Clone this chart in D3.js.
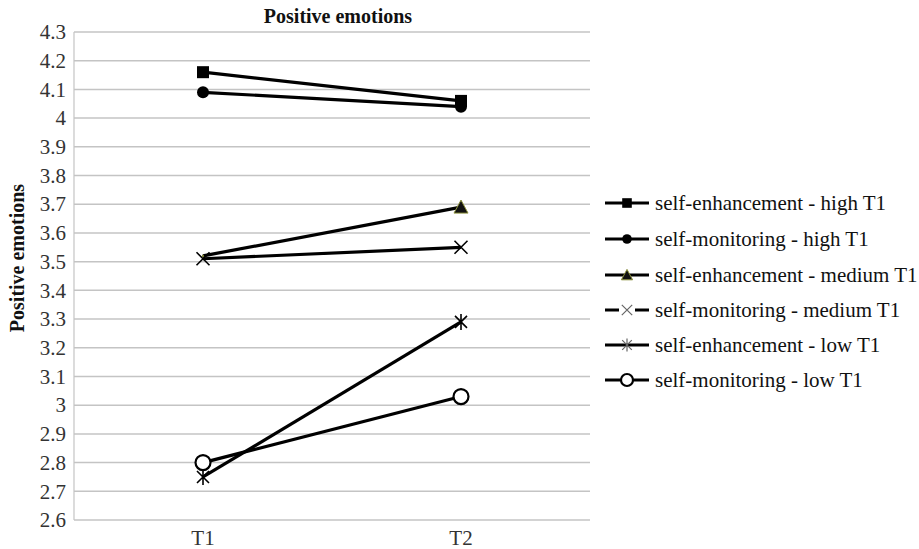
<!DOCTYPE html>
<html><head><meta charset="utf-8">
<script src="https://cdn.jsdelivr.net/npm/d3@7"></script>
<style>body{margin:0;background:#fff}svg{display:block}text{font-family:"Liberation Serif","Times New Roman",serif}</style>
</head><body>
<script>
const categories = ["T1", "T2"];
const seriesNames = ["self-enhancement - high T1", "self-monitoring - high T1", "self-enhancement - medium T1", "self-monitoring - medium T1", "self-enhancement - low T1", "self-monitoring - low T1"];
const seHigh = [4.16, 4.06];
const smHigh = [4.09, 4.04];
const seMedium = [3.52, 3.69];
const smMedium = [3.51, 3.55];
const seLow = [2.75, 3.29];
const smLow = [2.80, 3.03];
const yTicks = [2.6,2.7,2.8,2.9,3,3.1,3.2,3.3,3.4,3.5,3.6,3.7,3.8,3.9,4,4.1,4.2,4.3];
const markers = ["square","circle","triangle","x","star","ocircle"];

const seriesValues = [seHigh, smHigh, seMedium, smMedium, seLow, smLow];
const W = 919, H = 549;
const svg = d3.select("body").append("svg").attr("width", W).attr("height", H);
const pLeft = 74, pRight = 590, pTop = 32, pBottom = 520;
const x = d3.scaleBand().domain(categories).range([pLeft, pRight]);
const y = d3.scaleLinear().domain([2.6, 4.3]).range([pBottom, pTop]);

// gridlines
svg.append("g").selectAll("line").data(yTicks).join("line")
  .attr("x1", pLeft).attr("x2", pRight)
  .attr("y1", d => y(d)).attr("y2", d => y(d))
  .attr("stroke", "#c4c4c4").attr("stroke-width", 1.5);
svg.append("line").attr("x1", pLeft).attr("x2", pLeft).attr("y1", pTop).attr("y2", pBottom)
  .attr("stroke", "#c4c4c4").attr("stroke-width", 1.2);

// y axis labels
const yAxis = svg.append("g").attr("transform", `translate(${pLeft},0)`)
  .call(d3.axisLeft(y).tickValues(yTicks).tickSize(0).tickPadding(8).tickFormat(d => String(+d.toFixed(1))));
yAxis.select(".domain").remove();
yAxis.selectAll("text").attr("font-size", 21).attr("fill", "#333").attr("font-family", "Liberation Serif");

// x axis labels
const xAxis = svg.append("g").attr("transform", `translate(0,${pBottom})`)
  .call(d3.axisBottom(x).tickSize(0).tickPadding(10));
xAxis.select(".domain").remove();
xAxis.selectAll("text").attr("font-size", 21).attr("fill", "#333").attr("font-family", "Liberation Serif");

// title
svg.append("text").attr("x", 338).attr("y", 23).attr("text-anchor", "middle")
  .attr("font-size", 20).attr("font-weight", "bold").attr("fill", "#111").text("Positive emotions");
svg.append("text").attr("transform", "translate(24,258) rotate(-90)").attr("text-anchor", "middle")
  .attr("font-size", 20).attr("font-weight", "bold").attr("fill", "#111").text("Positive emotions");

function drawMarker(g, type, cx, cy, s, thin) {
  s = s || 1;
  const sc = thin ? "#666" : "#000";
  if (type === "square") g.append("rect").attr("x", cx - 6*s).attr("y", cy - 6*s).attr("width", 12*s).attr("height", 12*s).attr("fill", "#000");
  else if (type === "circle") g.append("circle").attr("cx", cx).attr("cy", cy).attr("r", 6*s).attr("fill", "#000");
  else if (type === "triangle") g.append("path").attr("d", `M${cx},${cy-7*s}L${cx+7*s},${cy+6*s}L${cx-7*s},${cy+6*s}Z`).attr("fill", "#111").attr("stroke", "#8a8f3a").attr("stroke-width", 1);
  else if (type === "x") g.append("path").attr("d", `M${cx-6.5*s},${cy-6.5*s}L${cx+6.5*s},${cy+6.5*s}M${cx+6.5*s},${cy-6.5*s}L${cx-6.5*s},${cy+6.5*s}`).attr("stroke", sc).attr("stroke-width", thin ? 1.2 : 1.6).attr("fill", "none");
  else if (type === "star") g.append("path").attr("d", `M${cx-6*s},${cy-6*s}L${cx+6*s},${cy+6*s}M${cx+6*s},${cy-6*s}L${cx-6*s},${cy+6*s}M${cx},${cy-8*s}L${cx},${cy+8*s}`).attr("stroke", sc).attr("stroke-width", thin ? 1.2 : 1.6).attr("fill", "none");
  else if (type === "ocircle") g.append("circle").attr("cx", cx).attr("cy", cy).attr("r", 7.5*s).attr("fill", "#fff").attr("stroke", "#000").attr("stroke-width", 2.2);
}

const line = d3.line().x((d, i) => x(categories[i]) + x.bandwidth()/2).y(d => y(d));
const plot = svg.append("g");
seriesValues.forEach((vals) => {
  plot.append("path").datum(vals).attr("d", line).attr("fill", "none").attr("stroke", "#000").attr("stroke-width", 3.2);
});
seriesValues.forEach((vals, si) => {
  vals.forEach((v, i) => {
    const scale = (markers[si] === "triangle" && i === 0) ? 0.15 : 1;
    drawMarker(plot, markers[si], x(categories[i]) + x.bandwidth()/2, y(v), scale, false);
  });
});

// legend
const lg = svg.append("g");
const rowY = [203, 239, 275, 310, 345, 380];
seriesNames.forEach((name, i) => {
  lg.append("line").attr("x1", 605).attr("x2", 649).attr("y1", rowY[i]).attr("y2", rowY[i]).attr("stroke", "#000").attr("stroke-width", 3.2);
  if (markers[i] === "x") {
    lg.append("line").attr("x1", 619).attr("x2", 635).attr("y1", rowY[i]).attr("y2", rowY[i]).attr("stroke", "#fff").attr("stroke-width", 4);
  }
  drawMarker(lg, markers[i], 627, rowY[i], 0.8, true);
  lg.append("text").attr("x", 655).attr("y", rowY[i] + 7).attr("font-size", 21).attr("fill", "#111").text(name);
});
</script>
</body></html>
